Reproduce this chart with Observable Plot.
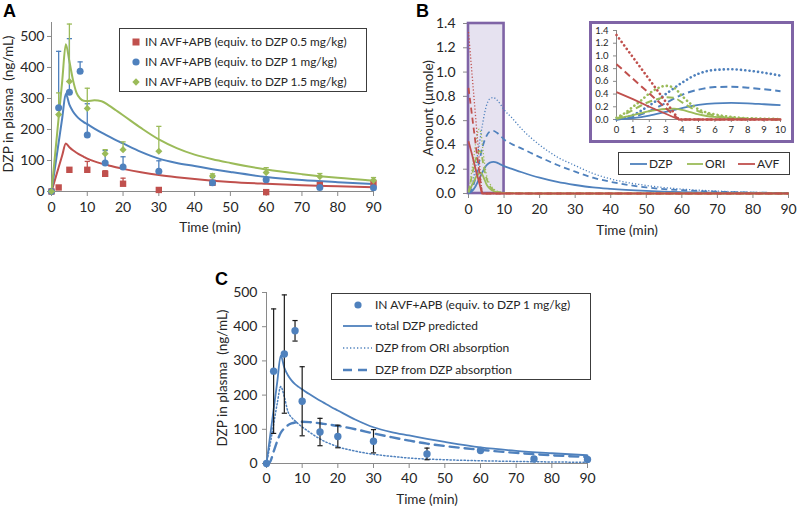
<!DOCTYPE html>
<html><head><meta charset="utf-8">
<script src="https://cdn.jsdelivr.net/npm/d3@7"></script>
<script src="https://cdn.jsdelivr.net/npm/@observablehq/plot@0.6"></script>
<style>
body{margin:0;background:#fff;}
#root{position:relative;width:799px;height:508px;overflow:hidden;font-family:Lato,sans-serif;color:#262626;}
.t{position:absolute;white-space:pre;line-height:1;}
.box{position:absolute;border:1px solid #3c3c3c;background:#fff;box-sizing:border-box;}
.pl{position:absolute;font-family:'Liberation Sans',Arial,sans-serif;font-weight:bold;font-size:18px;color:#000;line-height:1;}
</style></head><body><div id="root"></div>
<script>
// ---------------- DATA ----------------
// Panel A / C : model curves (ng/mL)
const tModel = [0,1,2,3,4,5,6,7,8,9,10,12,14,16,18,20,25,30,35,40,45,50,60,70,80,90];
const modelDose05 = [0,39,78,117,155,143,133,125,118,112,106,97,90,84,78,73,62,53,46,40,35,31,25,20,17,14];
const modelDose1  = [0,79,158,237,315,280,258,243,232,224,217,203,190,178,166,155,128,106,92,82,72,63,47,37,30,24];
const modelDose15 = [0,119,238,357,475,420,360,318,300,293,292,294,291,278,262,246,205,168,140,119,104,92,71,56,44,35];
// Panel C component curves
const fromORI = [0,55,115,175,225,195,152,135,125,115,107,92,78,66,57,49,36,27,21,16,13,11,8,6,4.5,3.5];
const fromDZP = [0,5,35,65,90,103,112,117,120,121,122,121,119,116,113,110,100,88,77,67,58,51,40,31,24,19];
// Observations
const tObsRed = [0,2,5,10,15,20,30,45,60,75,90];
const obsRed  = [0,13,70,70,57,25,5,28,-2,21,26];
const sdRed   = [0,0,0,27,10,18,0,4,0,4,4];
const tObsBlue = [0,2,5,8,10,15,20,30,45,60,75,90];
const obsBlue  = [0,270,320,388,182,92,79,65,28,38,13,12];
const sdBlue   = [0,182,173,30,101,40,33,34,17,4,6,5];
const tObsGreen = [0,2,5,10,15,20,30,45,60,75,90];
const obsGreen  = [0,248,355,268,122,135,130,50,61,48,36];
const sdGreen   = [0,70,185,65,13,25,80,7,16,10,9];
// Panel B : amounts (µmole)
const tDZP = [0,1,2,3,4,5,6,7,8,9,10,12,15,20,25,30,35,40,50,60,70,80,90];
const dzpLow  = [0,0.02,0.06,0.12,0.18,0.23,0.255,0.26,0.255,0.24,0.225,0.205,0.175,0.13,0.095,0.07,0.05,0.038,0.022,0.012,0.007,0.004,0.002];
const dzpMid  = [0,0.04,0.13,0.26,0.39,0.47,0.51,0.515,0.50,0.475,0.445,0.41,0.37,0.30,0.235,0.18,0.13,0.096,0.05,0.027,0.015,0.008,0.004];
const dzpHigh = [0,0.07,0.22,0.40,0.58,0.72,0.78,0.79,0.77,0.735,0.69,0.63,0.53,0.40,0.30,0.23,0.165,0.12,0.066,0.036,0.02,0.01,0.005];
const tORI = [0,0.5,1,1.5,2,2.5,3,3.5,4,4.5,5,5.5,6,7,8,9,10,20,30,40,50,60,70,80,90];
const oriLow  = [0.01,0.04,0.07,0.10,0.13,0.15,0.165,0.172,0.15,0.115,0.08,0.055,0.04,0.02,0.01,0.005,0.003,0,0,0,0,0,0,0,0];
const oriMid  = [0.01,0.08,0.15,0.22,0.28,0.32,0.35,0.34,0.27,0.19,0.13,0.09,0.06,0.03,0.015,0.008,0.004,0,0,0,0,0,0,0,0];
const oriHigh = [0.03,0.10,0.20,0.30,0.41,0.49,0.53,0.50,0.37,0.25,0.16,0.11,0.08,0.04,0.02,0.012,0.008,0,0,0,0,0,0,0,0];
const tAVF = [0,1,2,3,3.8,5,10,20,30,40,50,60,70,80,90];
const avfLow  = [0.43,0.32,0.20,0.09,0,0,0,0,0,0,0,0,0,0,0];
const avfMid  = [0.87,0.64,0.41,0.18,0,0,0,0,0,0,0,0,0,0,0];
const avfHigh = [1.33,0.98,0.63,0.28,0,0,0,0,0,0,0,0,0,0,0];
// Ticks
const timeTicks = [0,10,20,30,40,50,60,70,80,90];
const concTicks = [0,100,200,300,400,500];
const amtTicks = [0,0.2,0.4,0.6,0.8,1.0,1.2,1.4];
const insetTimeTicks = [0,1,2,3,4,5,6,7,8,9,10];
const zoomWindow = [0,10];
const amtDomain = [0,1.4];
// Labels
const legendA = ["IN AVF+APB (equiv. to DZP 0.5 mg/kg)","IN AVF+APB (equiv. to DZP 1 mg/kg)","IN AVF+APB (equiv. to DZP 1.5 mg/kg)"];
const legendB = ["DZP","ORI","AVF"];
const legendC = ["IN AVF+APB (equiv. to DZP 1 mg/kg)","total DZP predicted","DZP from ORI absorption","DZP from DZP absorption"];

// ---------------- HELPERS ----------------
const RED='#c0504d', BLUE='#4f81bd', GREEN='#9bbb59', PURPLE='#7f64a6';
const AX='#8a8a8a', TXT='#262626';
const rows = (t,v)=>t.map((x,i)=>({t:x,v:v[i]}));
const obs = (t,v,sd)=>t.map((x,i)=>({t:x,v:v[i],sd:sd[i],lo:v[i]-sd[i],hi:v[i]+sd[i]}));
const cap = w=>({draw(ctx){ctx.moveTo(-w,0);ctx.lineTo(w,0);}});
const style = fs=>({fontFamily:'Lato, sans-serif',fontSize:fs,color:TXT,background:'transparent',overflow:'visible'});
function axes(xt,yt,o){
  return [
    Plot.ruleX([0],{stroke:AX,strokeWidth:1}),
    Plot.ruleY([0],{stroke:AX,strokeWidth:1}),
    Plot.axisX({ticks:xt,tickSize:o.xs,tickPadding:o.xp,stroke:AX,fill:TXT,label:null,tickFormat:o.xf||(d=>String(d))}),
    Plot.axisY({ticks:yt,tickSize:o.ys,tickPadding:o.yp,stroke:AX,fill:TXT,label:null,tickFormat:o.yf||(d=>String(d))})
  ];
}
const root=document.getElementById('root');
function put(el,x,y){el.style.position='absolute';el.style.left=x+'px';el.style.top=y+'px';root.appendChild(el);return el;}
function txt(s,x,y,fs,opt={}){
  const d=document.createElement('div');d.className='t';d.textContent=s;d.style.fontSize=fs+'px';
  d.style.left=x+'px';d.style.top=y+'px';
  let tr='';
  if(opt.center) tr+='translate(-50%,-50%) ';
  else tr+='translate(0,-50%) ';
  if(opt.rot) tr+='rotate(-90deg)';
  d.style.transform=tr;root.appendChild(d);return d;
}
function swatch(x,y,w,h,inner){
  const ns='http://www.w3.org/2000/svg';
  const s=document.createElementNS(ns,'svg');s.setAttribute('width',w);s.setAttribute('height',h);
  s.innerHTML=inner;s.style.position='absolute';s.style.left=(x-w/2)+'px';s.style.top=(y-h/2)+'px';root.appendChild(s);
}
function box(x1,y1,x2,y2){const d=document.createElement('div');d.className='box';d.style.left=x1+'px';d.style.top=y1+'px';d.style.width=(x2-x1)+'px';d.style.height=(y2-y1)+'px';root.appendChild(d);}

// ---------------- PANEL A ----------------
const redObs=obs(tObsRed,obsRed,sdRed), blueObs=obs(tObsBlue,obsBlue,sdBlue), greenObs=obs(tObsGreen,obsGreen,sdGreen);
const errUp=(d,c)=>[
  Plot.ruleX(d.filter(r=>r.sd>0),{x:'t',y1:'v',y2:'hi',stroke:c,strokeWidth:1.3}),
  Plot.dot(d.filter(r=>r.sd>0),{x:'t',y:'hi',symbol:cap(2.6),stroke:c,strokeWidth:1.3,fill:'none'})
];
const plotA=Plot.plot({
  width:390,height:240,marginLeft:51,marginRight:17,marginTop:22,marginBottom:49,
  x:{domain:[0,90]},y:{domain:[0,545]},style:style('14px'),
  marks:[
    ...axes(timeTicks,concTicks,{xs:5,xp:6,ys:4,yp:3}),
    Plot.line(rows(tModel,modelDose05),{x:'t',y:'v',stroke:RED,strokeWidth:2,curve:'monotone-x'}),
    Plot.line(rows(tModel,modelDose1),{x:'t',y:'v',stroke:BLUE,strokeWidth:2,curve:'monotone-x'}),
    Plot.line(rows(tModel,modelDose15),{x:'t',y:'v',stroke:GREEN,strokeWidth:2,curve:'monotone-x'}),
    ...errUp(redObs,RED),...errUp(blueObs,BLUE),...errUp(greenObs,GREEN),
    Plot.dot(redObs,{x:'t',y:'v',symbol:'square',r:3.6,fill:RED}),
    Plot.dot(blueObs,{x:'t',y:'v',symbol:'circle',r:3.5,fill:BLUE}),
    Plot.dot(greenObs,{x:'t',y:'v',symbol:'diamond2',r:3.2,fill:GREEN})
  ]
});
put(plotA,0,0);

// ---------------- PANEL B ----------------
const styleB=[{w:1.8,d:null},{w:1.8,d:'6,4'},{w:1.3,d:'1.2,2'}];
function bLines(tt,arrs,col,st,curve){
  return arrs.map((a,i)=>Plot.line(rows(tt,a),{x:'t',y:'v',stroke:col,strokeWidth:st[i].w,strokeDasharray:st[i].d,strokeLinecap:st[i].cap||'butt',curve}));
}
const plotB=Plot.plot({
  width:399,height:240,marginLeft:68,marginRight:11,marginTop:23,marginBottom:47,
  x:{domain:[0,90]},y:{domain:amtDomain},style:style('14px'),
  marks:[
    ...axes(timeTicks,amtTicks,{xs:5,xp:6,ys:5,yp:8,yf:d3.format('.1f')}),
    Plot.rect([{a:zoomWindow[0],b:zoomWindow[1],c:amtDomain[0],e:amtDomain[1]}],{x1:'a',x2:'b',y1:'c',y2:'e',fill:'#e6e2f0',stroke:PURPLE,strokeWidth:2.6}),
    ...bLines(tDZP,[dzpLow,dzpMid,dzpHigh],BLUE,styleB,'monotone-x'),
    ...bLines(tORI,[oriLow,oriMid,oriHigh],GREEN,styleB,'monotone-x'),
    ...bLines(tAVF,[avfLow,avfMid,avfHigh],RED,styleB,'linear')
  ]
});
put(plotB,400,0);

// inset
const inset=document.createElement('div');
Object.assign(inset.style,{position:'absolute',left:'589px',top:'21px',width:'205px',height:'122px',border:'3px solid '+PURPLE,background:'#fff',boxSizing:'border-box'});
root.appendChild(inset);
const styleI=[{w:1.8,d:null},{w:2,d:'7,4'},{w:2.6,d:'0.1,4.2',cap:'round'}];
function iLines(tt,arrs,col,curve){
  const tt2=tt.filter(t=>t<=zoomWindow[1]);
  return arrs.map((a,i)=>Plot.line(rows(tt2,a.slice(0,tt2.length)),{x:'t',y:'v',stroke:col,strokeWidth:styleI[i].w,strokeDasharray:styleI[i].d,strokeLinecap:styleI[i].cap||'butt',curve}));
}
const plotI=Plot.plot({
  width:199,height:116,marginLeft:24,marginRight:11,marginTop:6,marginBottom:21,
  x:{domain:zoomWindow},y:{domain:amtDomain},style:style('9.5px'),
  marks:[
    ...axes(insetTimeTicks,amtTicks,{xs:3,xp:4,ys:3,yp:5,yf:d3.format('.1f')}),
    ...iLines(tDZP,[dzpLow,dzpMid,dzpHigh],BLUE,'monotone-x'),
    ...iLines(tORI,[oriLow,oriMid,oriHigh],GREEN,'monotone-x'),
    ...iLines(tAVF,[avfLow,avfMid,avfHigh],RED,'linear')
  ]
});
plotI.style.position='absolute';plotI.style.left='0px';plotI.style.top='0px';
inset.appendChild(plotI);

// ---------------- PANEL C ----------------
const plotC=Plot.plot({
  width:420,height:238,marginLeft:86,marginRight:13,marginTop:22,marginBottom:45,
  x:{domain:[0,90]},y:{domain:[0,500]},style:style('14px'),
  marks:[
    ...axes(timeTicks,concTicks,{xs:5,xp:5,ys:4,yp:5}),
    Plot.line(rows(tModel,modelDose1),{x:'t',y:'v',stroke:BLUE,strokeWidth:1.8,curve:'monotone-x'}),
    Plot.line(rows(tModel,fromORI),{x:'t',y:'v',stroke:BLUE,strokeWidth:1.5,strokeDasharray:'1.3,2.2',curve:'monotone-x'}),
    Plot.line(rows(tModel,fromDZP),{x:'t',y:'v',stroke:BLUE,strokeWidth:2.4,strokeDasharray:'9,6',curve:'monotone-x'}),
    Plot.ruleX(blueObs.filter(r=>r.sd>0),{x:'t',y1:'lo',y2:'hi',stroke:'#1a1a1a',strokeWidth:1.2}),
    Plot.dot(blueObs.filter(r=>r.sd>0),{x:'t',y:'hi',symbol:cap(2.6),stroke:'#1a1a1a',strokeWidth:1.2,fill:'none'}),
    Plot.dot(blueObs.filter(r=>r.sd>0),{x:'t',y:'lo',symbol:cap(2.6),stroke:'#1a1a1a',strokeWidth:1.2,fill:'none'}),
    Plot.dot(blueObs,{x:'t',y:'v',symbol:'circle',r:3.7,fill:BLUE})
  ]
});
put(plotC,180,270);

// ---------------- TEXT & LEGENDS ----------------
const pA=document.createElement('div');pA.className='pl';pA.textContent='A';put(pA,3,2);
const pB=document.createElement('div');pB.className='pl';pB.textContent='B';put(pB,416,2);
const pC=document.createElement('div');pC.className='pl';pC.textContent='C';put(pC,215,270);

txt('Time (min)',210,228,13.5,{center:true});
txt('DZP in plasma  (ng/mL)',9,104,13.5,{center:true,rot:true});
txt('Time (min)',627,231,13.5,{center:true});
txt('Amount (µmole)',429,108,13.5,{center:true,rot:true});
txt('Time (min)',427,500,13.5,{center:true});
txt('DZP in plasma  (ng/mL)',223,378,13.5,{center:true,rot:true});

// legend A
box(119,28,367,92);
const yA=[42,62,82];
swatch(136,yA[0],10,10,`<rect x="1.5" y="1.5" width="7" height="7" fill="${RED}"/>`);
swatch(136,yA[1],10,10,`<circle cx="5" cy="5" r="3.6" fill="${BLUE}"/>`);
swatch(136,yA[2],10,10,`<path d="M5,1.3L8.7,5L5,8.7L1.3,5Z" fill="${GREEN}"/>`);
legendA.forEach((s,i)=>txt(s,145,yA[i],11.8));

// legend B
box(618,152,790,175);
const bx=[[630,647],[687,703],[738,755]], bc=[BLUE,GREEN,RED];
legendB.forEach((s,i)=>{
  swatch((bx[i][0]+bx[i][1])/2,163.5,bx[i][1]-bx[i][0],6,`<line x1="0" y1="3" x2="${bx[i][1]-bx[i][0]}" y2="3" stroke="${bc[i]}" stroke-width="1.8"/>`);
  txt(s,bx[i][1]+2,163.5,12);
});

// legend C
box(331,293,591,380);
const yC=[305,326,348,370];
swatch(358,yC[0],10,10,`<circle cx="5" cy="5" r="3.6" fill="${BLUE}"/>`);
swatch(357.5,yC[1],29,6,`<line x1="0" y1="3" x2="29" y2="3" stroke="${BLUE}" stroke-width="1.8"/>`);
swatch(357.5,yC[2],29,6,`<line x1="0" y1="3" x2="29" y2="3" stroke="${BLUE}" stroke-width="1.5" stroke-dasharray="1.3,2.2"/>`);
swatch(357.5,yC[3],29,6,`<line x1="0" y1="3" x2="29" y2="3" stroke="${BLUE}" stroke-width="2.4" stroke-dasharray="9,6"/>`);
legendC.forEach((s,i)=>txt(s,375,yC[i],12));
</script></body></html>
